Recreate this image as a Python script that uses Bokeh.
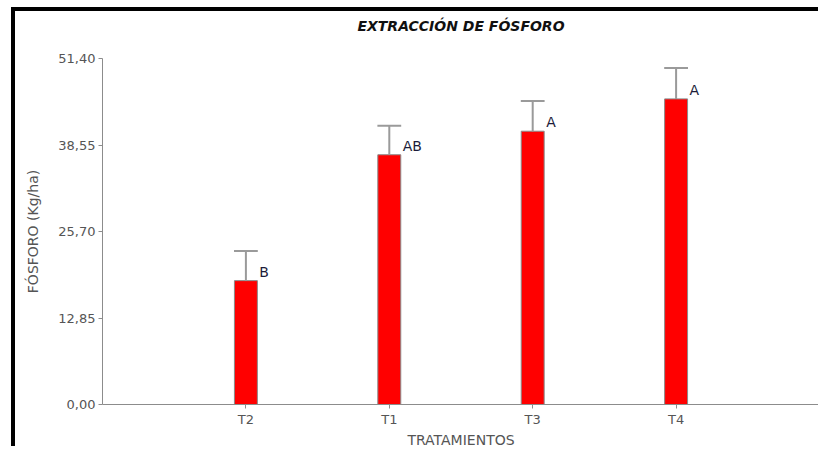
from bokeh.plotting import figure
from bokeh.models import FixedTicker, Range1d, Title
from bokeh.core.properties import value
from bokeh.embed import file_html
from bokeh.resources import INLINE

# Treatment means of phosphorus extraction (kg/ha), their error and Tukey letters
treatments = ["T2", "T1", "T3", "T4"]
phosphorus = [18.4, 37.1, 40.6, 45.4]
error = [4.4, 4.3, 4.5, 4.6]
letters = ["B", "AB", "A", "A"]
y_ticks = [0.0, 12.85, 25.70, 38.55, 51.40]

positions = [i + 1 for i in range(len(treatments))]
upper = [v + e for v, e in zip(phosphorus, error)]

FONT = "DejaVu Sans"

p = figure(
    width=807, height=439,
    x_range=Range1d(0, len(treatments) + 1),
    y_range=Range1d(0, 51.40),
    output_backend="svg", toolbar_location=None,
    min_border_left=87, min_border_right=3,
    min_border_top=47, min_border_bottom=46,
)
p.margin = (7, 0, 0, 11)
p.styles = {"border-top": "4px solid black", "border-left": "4px solid black"}

# blank band between the heading and the plot area
p.add_layout(Title(text=" ", text_font_size="10px", standoff=12), "above")

p.title.text = "EXTRACCIÓN DE FÓSFORO"
p.title.align = "center"
p.title.vertical_align = "bottom"
p.title.standoff = 0
p.title.text_font = FONT
p.title.text_font_style = "bold italic"
p.title.text_font_size = "14px"
p.title.text_color = "#111111"

p.outline_line_color = None
p.xgrid.visible = False
p.ygrid.visible = False

# bars
p.vbar(x=positions, top=phosphorus, width=0.16,
       fill_color="#ff0000", line_color="#8a8a8a", line_width=1)

# error whiskers and caps
p.segment(x0=positions, y0=phosphorus, x1=positions, y1=upper,
          line_color="#9a9a9a", line_width=2)
p.segment(x0=[x - 0.083 for x in positions], y0=upper,
          x1=[x + 0.083 for x in positions], y1=upper,
          line_color="#9a9a9a", line_width=2)

# significance letters
p.text(x=[x + 0.08 for x in positions], y=phosphorus, text=letters,
       text_align="left", text_baseline="bottom", x_offset=2, y_offset=-1,
       text_font=value(FONT), text_font_size="14px", text_color="#1c1c3a")

# axes
xa = p.xaxis[0]
xa.ticker = FixedTicker(ticks=positions)
xa.major_label_overrides = {x: t for x, t in zip(positions, treatments)}
xa.axis_label = "TRATAMIENTOS"
ya = p.yaxis[0]
ya.ticker = FixedTicker(ticks=y_ticks)
ya.major_label_overrides = {t: f"{t:.2f}".replace(".", ",") for t in y_ticks}
ya.axis_label = "FÓSFORO (Kg/ha)"

for ax in (xa, ya):
    ax.axis_line_color = "#8c8c8c"
    ax.axis_line_width = 1
    ax.major_tick_line_color = "#8c8c8c"
    ax.major_tick_out = 4
    ax.major_tick_in = 0
    ax.minor_tick_line_color = None
    ax.major_label_text_font = FONT
    ax.major_label_text_font_size = "13px"
    ax.major_label_text_color = "#555555"
    ax.axis_label_text_font = FONT
    ax.axis_label_text_font_size = "14px"
    ax.axis_label_text_font_style = "normal"
    ax.axis_label_text_color = "#555555"
xa.major_label_standoff = 3
xa.axis_label_standoff = 2
ya.major_label_standoff = 3
ya.axis_label_standoff = 14

open("out.html", "w").write(file_html(p, INLINE))
